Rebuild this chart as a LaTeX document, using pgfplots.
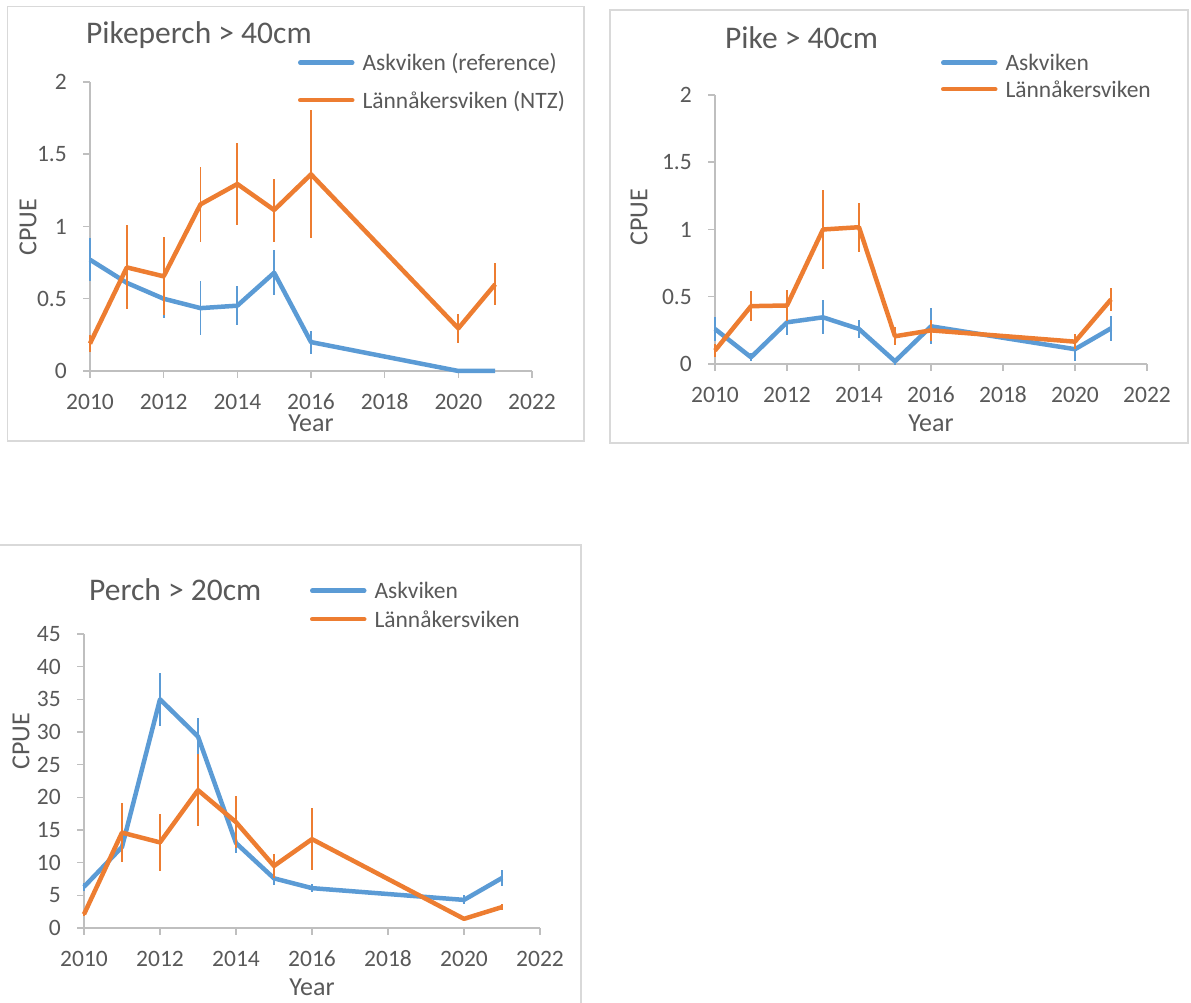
\documentclass[border=0pt]{standalone}
\usepackage{fontspec}
\setmainfont{Carlito}
\usepackage{pgfplots}
\pgfplotsset{compat=1.18}
\definecolor{cblue}{HTML}{5B9BD5}
\definecolor{corange}{HTML}{ED7D31}
\definecolor{ctext}{HTML}{595959}
\definecolor{caxis}{HTML}{BFBFBF}
\definecolor{cborder}{HTML}{D9D9D9}
\newcommand\tickfont{\fontsize{23.5}{28}\selectfont}
\newcommand\titlefont{\fontsize{31.5}{38}\selectfont}
\newcommand\labelfont{\fontsize{26}{31}\selectfont}
\newcommand\lstrut{\rule[-6pt]{0pt}{24pt}}
\pgfplotsset{
  panel/.style={
    scale only axis, clip=false,
    xmin=2010, xmax=2022, ymin=0,
    axis x line=bottom, axis y line=left,
    axis line style={caxis, line width=1.5pt, -},
    every outer x axis line/.append style={-},
    every outer y axis line/.append style={-},
    major tick style={caxis, line width=1.5pt},
    tick align=outside, major tick length=7pt,
    xtick={2010,2012,...,2022},
    tick label style={font=\tickfont, text=ctext, inner sep=0pt},
    /pgf/number format/assume math mode=true,
    /pgf/number format/1000 sep={},
    xticklabel style={anchor=center, yshift=-24pt},
    yticklabel style={anchor=east, xshift=-16pt},
    legend cell align=left,
    legend image code/.code={\draw[#1, line width=4.5pt, line cap=round] (0pt,0pt) -- (52pt,0pt);},
    legend style={draw=none, fill=none, inner sep=0pt, outer sep=0pt, column sep=6pt, font=\tickfont, text=ctext, anchor=north west},
    title style={font=\titlefont, text=ctext, anchor=base west, inner sep=0pt},
    xlabel style={font=\labelfont, text=ctext, anchor=center, inner sep=0pt},
    ylabel style={font=\labelfont, text=ctext, anchor=center, inner sep=0pt},
    xlabel={Year}, ylabel={CPUE},
  },
  bl/.style={cblue, line width=4.5pt, line join=round, no markers,
    error bars/.cd, y dir=both, y explicit, error mark=none,
    error bar style={line width=1.75pt, cblue}},
  or/.style={corange, line width=4.5pt, line join=round, no markers,
    error bars/.cd, y dir=both, y explicit, error mark=none,
    error bar style={line width=1.75pt, corange}},
}
\begin{document}
\begin{tikzpicture}[x=1pt,y=1pt]
\useasboundingbox (0,0) rectangle (1191,1003);
% panel frames
\draw[cborder, line width=1.5pt] (7.3,996.3) rectangle (584,562);
\draw[cborder, line width=1.5pt] (610,993) rectangle (1188,560);
\draw[cborder, line width=1.5pt] (-5,458) rectangle (581,-10);

% Panel 1: Pikeperch
\begin{axis}[panel, at={(90pt,632pt)}, anchor=south west,
  width=442pt, height=289pt, ymax=2, ytick={0,0.5,1,1.5,2},
  title={Pikeperch > 40cm},
  title style={at={([xshift=-4pt,yshift=321pt]axis description cs:0,0)}},
  xlabel style={at={([xshift=221pt,yshift=-52pt]axis description cs:0,0)}},
  ylabel style={at={([xshift=-62pt,yshift=144pt]axis description cs:0,0)}},
  legend style={at={([xshift=208pt,yshift=320pt]axis description cs:0,0)}, row sep=14pt},
]
\addplot[bl] coordinates {
  (2010,0.77) +- (0,0.15)
  (2011,0.61) +- (0,0.08)
  (2012,0.50) +- (0,0.13)
  (2013,0.435) +- (0,0.185)
  (2014,0.452) +- (0,0.137)
  (2015,0.68) +- (0,0.157)
  (2016,0.20) +- (0,0.08)
  (2020,0) +- (0,0)
  (2021,0) +- (0,0)
};
\addlegendentry{\lstrut Askviken (reference)}
\addplot[or] coordinates {
  (2010,0.19) +- (0,0.057)
  (2011,0.717) +- (0,0.29)
  (2012,0.655) +- (0,0.27)
  (2013,1.153) +- (0,0.258)
  (2014,1.294) +- (0,0.287)
  (2015,1.114) +- (0,0.218)
  (2016,1.361) +- (0,0.444)
  (2020,0.295) +- (0,0.098)
  (2021,0.60) +- (0,0.145)
};
\addlegendentry{\lstrut Lännåkersviken (NTZ)}
\end{axis}

% Panel 2: Pike
\begin{axis}[panel, at={(715pt,639pt)}, anchor=south west,
  width=432pt, height=269pt, ymax=2, ytick={0,0.5,1,1.5,2},
  title={Pike > 40cm},
  title style={at={([xshift=10pt,yshift=309.7pt]axis description cs:0,0)}},
  xlabel style={at={([xshift=216pt,yshift=-59pt]axis description cs:0,0)}},
  ylabel style={at={([xshift=-76pt,yshift=147pt]axis description cs:0,0)}},
  legend style={at={([xshift=226pt,yshift=313pt]axis description cs:0,0)}, row sep=3pt},
]
\addplot[bl] coordinates {
  (2010,0.26) +- (0,0.087)
  (2011,0.05) +- (0,0.03)
  (2012,0.31) +- (0,0.093)
  (2013,0.347) +- (0,0.127)
  (2014,0.26) +- (0,0.065)
  (2015,0.02) +- (0,0.025)
  (2016,0.28) +- (0,0.135)
  (2020,0.11) +- (0,0.09)
  (2021,0.265) +- (0,0.095)
};
\addlegendentry{\lstrut Askviken}
\addplot[or] coordinates {
  (2010,0.10) +- (0,0.05)
  (2011,0.43) +- (0,0.114)
  (2012,0.435) +- (0,0.115)
  (2013,1.0) +- (0,0.294)
  (2014,1.017) +- (0,0.182)
  (2015,0.206) +- (0,0.068)
  (2016,0.25) +- (0,0.08)
  (2020,0.166) +- (0,0.055)
  (2021,0.48) +- (0,0.085)
};
\addlegendentry{\lstrut Lännåkersviken}
\end{axis}

% Panel 3: Perch
\begin{axis}[panel, at={(84pt,75pt)}, anchor=south west,
  width=456pt, height=294pt, ymax=45, ytick={0,5,...,45},
  title={Perch > 20cm},
  title style={at={([xshift=5pt,yshift=321.3pt]axis description cs:0,0)}},
  xlabel style={at={([xshift=228pt,yshift=-59.5pt]axis description cs:0,0)}},
  ylabel style={at={([xshift=-63pt,yshift=187pt]axis description cs:0,0)}},
  legend style={at={([xshift=226pt,yshift=349pt]axis description cs:0,0)}, row sep=5pt},
]
\addplot[bl] coordinates {
  (2010,6.3) +- (0,0.6)
  (2011,12.4) +- (0,1.5)
  (2012,35.0) +- (0,4.1)
  (2013,29.3) +- (0,2.8)
  (2014,13.0) +- (0,1.5)
  (2015,7.6) +- (0,1.0)
  (2016,6.1) +- (0,0.6)
  (2020,4.3) +- (0,0.7)
  (2021,7.65) +- (0,1.25)
};
\addlegendentry{\lstrut Askviken}
\addplot[or] coordinates {
  (2010,2.1) +- (0,0.3)
  (2011,14.6) +- (0,4.5)
  (2012,13.1) +- (0,4.4)
  (2013,21.1) +- (0,5.55)
  (2014,16.2) +- (0,4.0)
  (2015,9.5) +- (0,1.8)
  (2016,13.6) +- (0,4.7)
  (2020,1.4) +- (0,0.3)
  (2021,3.2) +- (0,0.5)
};
\addlegendentry{\lstrut Lännåkersviken}
\end{axis}
\end{tikzpicture}
\end{document}
